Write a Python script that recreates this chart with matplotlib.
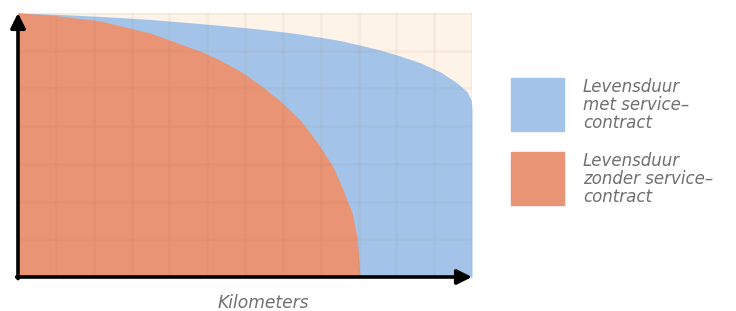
import matplotlib.pyplot as plt
from matplotlib.patches import Rectangle

# curves (x and y in grid cells, 12 x 7 grid)
with_x = [0, 1.11, 2.17, 3.49, 4.81, 6.13, 7.0, 7.46, 7.98, 8.51, 9.04, 9.57, 10.10,
          10.63, 11.16, 11.61, 11.87, 11.98, 12.0, 12.0]
with_y = [7.0, 6.96, 6.91, 6.83, 6.72, 6.60, 6.50, 6.44, 6.36, 6.27, 6.15, 6.02, 5.86,
          5.68, 5.44, 5.14, 4.91, 4.69, 4.43, 0]
without_x = [0, 0.85, 2.17, 3.49, 4.81, 5.34, 5.87, 6.40, 6.93, 7.46, 7.90, 8.33,
             8.59, 8.83, 8.96, 9.01, 9.04]
without_y = [7.0, 6.95, 6.79, 6.47, 5.99, 5.75, 5.46, 5.09, 4.67, 4.16, 3.58, 2.92,
             2.31, 1.70, 1.06, 0.45, 0]

labels = ["Levensduur\nmet service–\ncontract", "Levensduur\nzonder service–\ncontract"]
xlabel = "Kilometers"

blue = '#a3c4e8'
orange = '#e99474'
bg = '#fdf3e8'
grey = '#707070'
gridcol = '#a07060'

plt.rcParams['font.family'] = ['DejaVu Sans']

fig = plt.figure(figsize=(7.36, 3.11), dpi=100)
ax = fig.add_axes([18 / 736, 34 / 311, 454 / 736, 264 / 311])
ax.set_xlim(0, 12)
ax.set_ylim(0, 7)
ax.set_facecolor(bg)

ax.fill_between(with_x, with_y, 0, color=blue, lw=0, zorder=1)
ax.fill_between(without_x, without_y, 0, color=orange, lw=0, zorder=2)

# grid drawn over the areas
for gx in range(1, 13):
    ax.axvline(gx, color=gridcol, alpha=0.06, lw=2.2, zorder=3)
for gy in range(1, 8):
    ax.axhline(gy, color=gridcol, alpha=0.06, lw=2.2, zorder=3)

for s in ax.spines.values():
    s.set_visible(False)
ax.set_xticks([])
ax.set_yticks([])

# axis arrows
arrow = dict(arrowstyle='-|>', color='black', lw=2.6, mutation_scale=22, shrinkA=0, shrinkB=0)
ax.annotate('', xy=(1.0, 0), xytext=(-0.003, 0), xycoords='axes fraction',
            arrowprops=arrow, annotation_clip=False, zorder=5)
ax.annotate('', xy=(0, 1.0), xytext=(0, -0.006), xycoords='axes fraction',
            arrowprops=arrow, annotation_clip=False, zorder=5)

fig.text(263 / 736, 1 - 303 / 311, xlabel, ha='center', va='center',
         fontsize=12.3, style='italic', color=grey)

# legend
for i, (lab, col) in enumerate(zip(labels, [blue, orange])):
    top = 78 + i * 74
    fig.patches.append(Rectangle((511 / 736, 1 - (top + 53) / 311), 53 / 736, 53 / 311,
                                 transform=fig.transFigure, color=col))
    fig.text(583 / 736, 1 - (top + 27) / 311, lab, ha='left', va='center',
             fontsize=12, style='italic', color=grey, linespacing=1.02)

fig.savefig('out.png', dpi=100)
